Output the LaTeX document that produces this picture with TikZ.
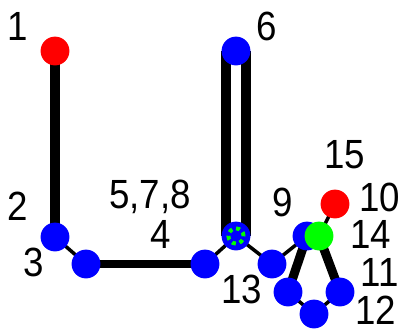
\documentclass[tikz,border=0pt]{standalone}
\usepackage{fontspec}
\setmainfont[FakeStretch=0.9]{Liberation Sans}
\usetikzlibrary{backgrounds}

\begin{document}
\begin{tikzpicture}[x=0.025cm, y=-0.025cm,
    vert/.style={circle, fill=blue, inner sep=0pt, minimum size=0.72cm},
    lbl/.style={font=\fontsize{29}{29}\selectfont, inner sep=0pt},
    thinedge/.style={line width=2.5pt},
    boldedge/.style={line width=6.4pt}]
  \useasboundingbox (0,0) rectangle (402,331);

  % vertices
  \node[vert, fill=red] (a) at (55,51) {};
  \node[vert] (b) at (55,237) {};
  \node[vert] (c) at (86,264) {};
  \node[vert] (d) at (205,264) {};
  \node[vert] (e) at (236,236) {};
  \draw[green, line width=2.8pt, dash pattern=on 2.8pt off 2.8pt] (e.center) circle[radius=0.19cm];
  \node[vert] (f) at (236,51) {};
  \node[vert] (g) at (272,264) {};
  \node[vert] (h) at (307,236) {};
  \node[vert, fill=green] (k) at (319,236) {};
  \node[vert, fill=red] (m) at (335,204) {};
  \node[vert] (p) at (288,292) {};
  \node[vert] (q) at (340,292) {};
  \node[vert] (r) at (314,314) {};

  % edges
  \begin{pgfonlayer}{background}
    \draw[line width=7.1pt] (a.center) -- (b.center);
    \draw[thinedge] (b.center) -- (c.center);
    \draw[line width=5.8pt] (c.center) -- (d.center);
    \draw[thinedge] (d.center) -- (e.center);
    \draw[line width=7.1pt, double=white, double distance=7.1pt] (e.center) -- (f.center);
    \draw[thinedge] (e.center) -- (g.center);
    \draw[thinedge] (g.center) -- (h.center);
    \draw[thinedge] (m.center) -- (k.center);
    \draw[boldedge] (h.center) -- (p.center);
    \draw[boldedge] (k.center) -- (q.center);
    \draw[thinedge] (p.center) -- (r.center);
    \draw[thinedge] (q.center) -- (r.center);
  \end{pgfonlayer}

  % labels
  \node[lbl] (l1) at (18,26) {1};
  \node[lbl] (l6) at (267,26) {6};
  \node[lbl] (l15) at (345,155) {15};
  \node[lbl] (l2) at (18,206) {2};
  \node[lbl] (l3) at (34,262) {3};
  \node[lbl] (l578) at (150,197) {5,7,8};
  \node[lbl] (l4) at (161,234) {4};
  \node[lbl] (l9) at (283,202) {9};
  \node[lbl] (l10) at (380,197) {10};
  \node[lbl] (l14) at (371,234) {14};
  \node[lbl] (l11) at (380,272) {11};
  \node[lbl] (l12) at (376,310) {12};
  \node[lbl] (l13) at (242,289) {13};
\end{tikzpicture}
\end{document}
